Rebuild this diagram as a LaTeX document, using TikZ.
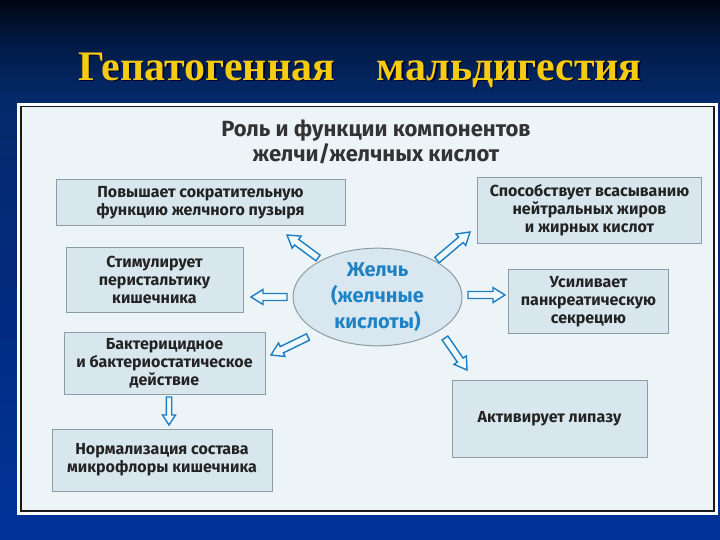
\documentclass[tikz,border=0pt]{standalone}
\usepackage{fontspec}
\setmainfont{Fira Sans}
\newfontfamily\titlefont{Liberation Serif}
\usetikzlibrary{calc,shapes.geometric}
\definecolor{bgA}{HTML}{003399}
\definecolor{bgB}{HTML}{022C82}
\definecolor{bgC}{HTML}{04296A}
\definecolor{bgD}{HTML}{011A45}
\definecolor{bgE}{HTML}{000612}
\definecolor{titley}{HTML}{F7CB10}
\definecolor{panelfill}{HTML}{EDF4F7}
\definecolor{boxfill}{HTML}{D8E7ED}
\definecolor{boxline}{HTML}{8E9CA4}
\definecolor{boxtext}{HTML}{232323}
\definecolor{headtext}{HTML}{333333}
\definecolor{ellfill}{HTML}{D9E8F0}
\definecolor{elltext}{HTML}{1E82C4}
\definecolor{arrline}{HTML}{1C7FC4}
\definecolor{arrfill}{HTML}{F2F9FC}
\pgfdeclareverticalshading{bgshade}{100bp}{color(0bp)=(bgA); color(25bp)=(bgA); color(45bp)=(bgB); color(66bp)=(bgC); color(71bp)=(bgD); color(75bp)=(bgE); color(100bp)=(bgE)}
\newcommand{\blockarrow}[5]{%
  \path ($(#2)!#5pt!(#1)$) coordinate (bp);
  \draw[arrowshape] ($(#1)!#3pt!90:(#2)$) -- ($(bp)!#3pt!-90:(#1)$) -- ($(bp)!#4pt!-90:(#1)$) -- (#2) -- ($(bp)!#4pt!90:(#1)$) -- ($(bp)!#3pt!90:(#1)$) -- ($(#1)!#3pt!-90:(#2)$) -- cycle;}
\tikzset{
  infobox/.style={draw=boxline, fill=boxfill, line width=1pt, align=center, inner sep=0pt,
    text=boxtext, font=\bfseries\fontsize{16}{18}\selectfont},
  arrowshape/.style={draw=arrline, fill=arrfill, line width=1.4pt, line join=miter},
}
\begin{document}
\begin{tikzpicture}[x=1pt,y=-1pt]
\useasboundingbox (0,0) rectangle (720,540);
\shade[shading=bgshade] (0,0) rectangle (720,540);
% title
\node[font=\titlefont\bfseries\fontsize{42}{42}\selectfont, text=black!80!blue] at (361.5,71.5) {Гепатогенная\quad мальдигестия};
\node[font=\titlefont\bfseries\fontsize{42}{42}\selectfont, text=titley] (title) at (360,70) {Гепатогенная\quad мальдигестия};
% panel
\fill[white!92!panelfill] (17,103) rectangle (718,515);
\draw[fill=panelfill, line width=1.6pt, draw=black!90] (21,106.5) rectangle (714,511);
% heading
\node[align=center, text=headtext, font=\bfseries\fontsize{22}{25}\selectfont] (head) at (376,142) {Роль и функции компонентов\\желчи/желчных кислот};
% boxes
\node[infobox, minimum width=289, minimum height=46] (b1) at (200.5,203) {Повышает сократительную\\функцию желчного пузыря};
\node[infobox, minimum width=224, minimum height=65] (b2) at (589.5,210.5) {Способствует всасыванию\\нейтральных жиров\\и жирных кислот};
\node[infobox, minimum width=177, minimum height=65] (b3) at (154.5,279.5) {Стимулирует\\перистальтику\\кишечника};
\node[infobox, minimum width=160, minimum height=64] (b4) at (588.5,301.5) {Усиливает\\панкреатическую\\секрецию};
\node[infobox, minimum width=201, minimum height=62] (b5) at (164.5,363) {Бактерицидное\\и бактериостатическое\\действие};
\node[infobox, minimum width=220, minimum height=62] (b6) at (162,460) {Нормализация состава\\микрофлоры кишечника};
\node[infobox, minimum width=195, minimum height=77] (b7) at (549.5,418.5) {Активирует липазу};
% center ellipse
\node[draw=boxline, fill=ellfill, line width=1pt, ellipse, minimum width=169, minimum height=92, inner sep=0pt,
  align=center, text=elltext, font=\bfseries\fontsize{20}{26}\selectfont] (bile) at (377.5,297) {Желчь\\(желчные\\кислоты)};
% arrow coordinates
\coordinate (t1) at (318,258); \coordinate (h1) at (287,235);
\coordinate (t2) at (437,260); \coordinate (h2) at (470,232);
\coordinate (t3) at (287,297); \coordinate (h3) at (251,297);
\coordinate (t4) at (468,295); \coordinate (h4) at (505,295);
\coordinate (t5) at (308,337); \coordinate (h5) at (271,355);
\coordinate (t6) at (445,338); \coordinate (h6) at (467,370);
\coordinate (t7) at (169,397); \coordinate (h7) at (169,425);
\blockarrow{t1}{h1}{3.5}{7.5}{12}
\blockarrow{t2}{h2}{3.5}{7.5}{12}
\blockarrow{t3}{h3}{3.5}{7.5}{12}
\blockarrow{t4}{h4}{3.5}{7.5}{12}
\blockarrow{t5}{h5}{3.5}{7.5}{12}
\blockarrow{t6}{h6}{3.5}{7.5}{12}
\blockarrow{t7}{h7}{2.7}{6.5}{10}
\end{tikzpicture}
\end{document}
